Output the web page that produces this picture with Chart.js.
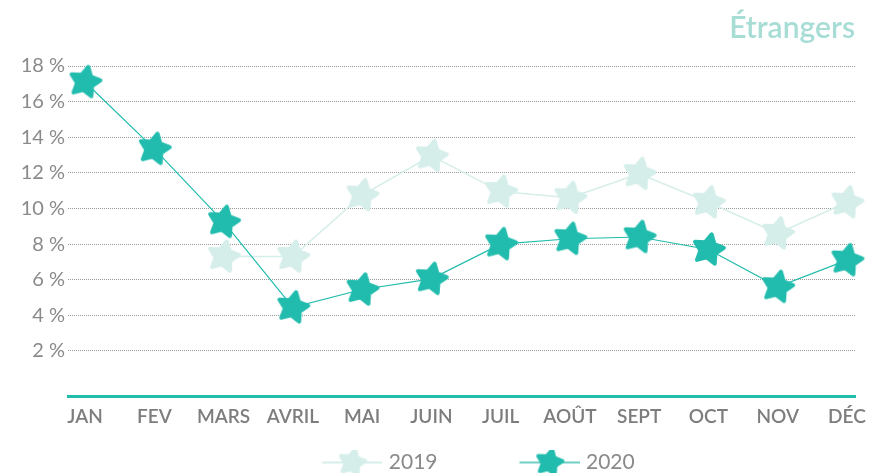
<!DOCTYPE html>
<html>
<head>
<meta charset="utf-8">
<script src="https://cdn.jsdelivr.net/npm/chart.js@4"></script>
<style>
    html, body { margin: 0; padding: 0; background: #fff; }
    #wrap { width: 884px; height: 473px; }
</style>
</head>
<body>
<div id="wrap"><canvas id="chart"></canvas></div>
<script>
const months = ['JAN', 'FEV', 'MARS', 'AVRIL', 'MAI', 'JUIN', 'JUIL', 'AOÛT', 'SEPT', 'OCT', 'NOV', 'DÉC'];
const values2019 = [null, null, 7.3, 7.3, 10.75, 12.95, 10.95, 10.6, 11.95, 10.35, 8.6, 10.35];
const values2020 = [17.1, 13.35, 9.25, 4.45, 5.45, 6.05, 8.0, 8.3, 8.4, 7.7, 5.6, 7.1];
const yTicks = [2, 4, 6, 8, 10, 12, 14, 16, 18];
const seriesLabels = ['2019', '2020'];

const lightColor = '#d5eeea';
const tealColor = '#21bcad';
const textGrey = '#8a8a8a';

// rounded five-point star, optionally with a line through it (legend)
function starCanvas(fill, radius, width, lineColor) {
    const size = Math.ceil(radius * 2 + 6);
    const c = document.createElement('canvas');
    c.width = width || size;
    c.height = size;
    const ctx = c.getContext('2d');
    const cx = width ? c.width - 30 : size / 2;
    const cy = size / 2;
    if (lineColor) {
        ctx.strokeStyle = lineColor;
        ctx.lineWidth = 2;
        ctx.beginPath();
        ctx.moveTo(cx - 30, cy);
        ctx.lineTo(cx + 30, cy);
        ctx.stroke();
    }
    const rot = 12 * Math.PI / 180;
    ctx.beginPath();
    for (let i = 0; i < 10; i++) {
        const r = i % 2 === 0 ? radius : radius * 0.52;
        const a = -Math.PI / 2 + rot + i * Math.PI / 5;
        const px = cx + r * Math.cos(a);
        const py = cy + r * Math.sin(a);
        if (i === 0) ctx.moveTo(px, py); else ctx.lineTo(px, py);
    }
    ctx.closePath();
    ctx.fillStyle = fill;
    ctx.strokeStyle = fill;
    ctx.lineJoin = 'round';
    ctx.lineWidth = 4;
    ctx.fill();
    ctx.stroke();
    return c;
}

const star2019 = starCanvas(lightColor, 15.5);
const star2020 = starCanvas(tealColor, 15.5);
const legendStars = [
    starCanvas(lightColor, 13, 144, lightColor),
    starCanvas(tealColor, 13, 144, '#6fcfc4')
];

const toPoints = values => values.map((v, i) => ({ x: i, y: v }));

// nudge the centred legend to where it sits in the original
const legendShift = {
    id: 'legendShift',
    afterLayout(chart) {
        chart.legend.left += 11;
        chart.legend.right += 11;
        chart.legend.top += 10;
        chart.legend.bottom += 10;
    }
};

new Chart(document.getElementById('chart'), {
    type: 'line',
    data: {
        datasets: [{
            label: seriesLabels[0],
            data: toPoints(values2019),
            borderColor: lightColor,
            borderWidth: 1.5,
            pointStyle: star2019,
            pointRadius: 15,
            pointHoverRadius: 15,
            order: 2
        }, {
            label: seriesLabels[1],
            data: toPoints(values2020),
            borderColor: tealColor,
            borderWidth: 1.2,
            pointStyle: star2020,
            pointRadius: 15,
            pointHoverRadius: 15,
            order: 1
        }]
    },
    options: {
        responsive: true,
        maintainAspectRatio: false,
        animation: false,
        clip: false,
        layout: {
            padding: { left: 0, right: 29, top: 0, bottom: 0 }
        },
        plugins: {
            title: {
                display: true,
                text: 'Étrangers',
                align: 'end',
                color: '#a7ddd5',
                font: { family: 'Lato', size: 30, weight: '600' },
                padding: { top: 10, bottom: 20 }
            },
            legend: {
                position: 'bottom',
                labels: {
                    usePointStyle: true,
                    pointStyleWidth: 136,
                    boxHeight: 20,
                    color: textGrey,
                    font: { family: 'Lato', size: 21 },
                    padding: 2,
                    generateLabels: chart => chart.data.datasets.map((ds, i) => ({
                        text: ds.label,
                        pointStyle: legendStars[i],
                        datasetIndex: i,
                        hidden: false,
                        fontColor: textGrey,
                        lineWidth: 0,
                        strokeStyle: 'transparent',
                        fillStyle: 'transparent'
                    }))
                }
            },
            tooltip: { enabled: false }
        },
        scales: {
            x: {
                type: 'linear',
                min: -0.246,
                max: 11.116,
                afterBuildTicks: scale => {
                    scale.ticks = months.map((m, i) => ({ value: i }));
                },
                afterFit: scale => {
                    scale.height = 43.5;
                },
                ticks: {
                    callback: value => months[value],
                    color: '#7d7d7d',
                    font: { family: 'Lato', size: 19, weight: '600' },
                    padding: 9,
                    maxRotation: 0,
                    autoSkip: false
                },
                grid: { color: 'transparent', drawTicks: false },
                border: { display: true, color: tealColor, width: 3 }
            },
            y: {
                min: -0.556,
                max: 18,
                afterBuildTicks: scale => {
                    scale.ticks = yTicks.map(v => ({ value: v }));
                },
                afterFit: scale => {
                    scale.width = 68;
                },
                ticks: {
                    callback: value => value + ' %',
                    color: textGrey,
                    font: { family: 'Lato', size: 20 },
                    padding: 3
                },
                grid: { color: '#9a9a9a', lineWidth: 1, drawTicks: false },
                border: { display: false, dash: [1, 1] }
            }
        }
    },
    plugins: [legendShift]
});
</script>
</body>
</html>
